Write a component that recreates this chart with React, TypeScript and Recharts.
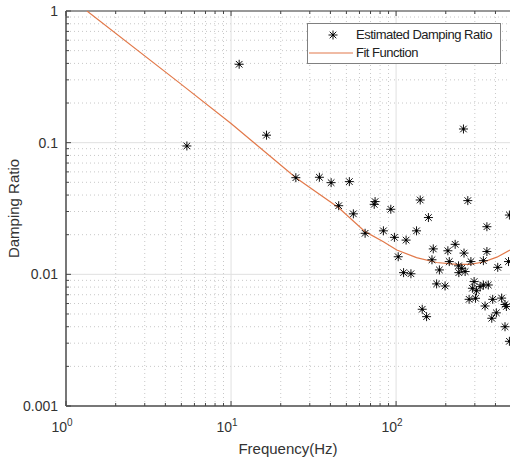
import React from "react";
import {
  Label,
  ReferenceLine,
  Scatter,
  ScatterChart,
  XAxis,
  YAxis,
} from "recharts";

// estimated damping ratio per mode
const pointFreq = [
  5.4, 11.2, 16.4, 24.7, 34.3, 40.4, 52.1, 44.9, 55.1, 74.6, 73.7, 92.9, 64.9, 83.8, 97.7, 103,
  115, 133, 111, 123, 140, 157, 168, 165, 183, 206, 228, 258, 210, 239, 250, 262, 240, 284, 338,
  355, 355, 272, 413, 480, 486, 176, 198, 297, 290, 307, 323, 338, 362, 303, 277, 346, 385, 380,
  405, 436, 457, 466, 457, 486, 144, 153, 256,
];
const pointDamping = [
  0.0944, 0.394, 0.114, 0.0542, 0.0546, 0.0497, 0.0506, 0.0332, 0.0288, 0.0357, 0.034, 0.0312,
  0.0205, 0.0214, 0.0191, 0.0136, 0.0182, 0.0214, 0.0103, 0.0101, 0.0367, 0.027, 0.0156, 0.0129,
  0.0108, 0.0151, 0.0169, 0.0145, 0.0125, 0.0116, 0.0111, 0.0105, 0.0103, 0.0125, 0.0127, 0.0149,
  0.023, 0.0363, 0.0113, 0.0125, 0.0282, 0.00846, 0.00816, 0.00881, 0.00784, 0.0075, 0.00807,
  0.0083, 0.0083, 0.00658, 0.00646, 0.00575, 0.00646, 0.00464, 0.0051, 0.0066, 0.0059, 0.0057,
  0.004, 0.0031, 0.00543, 0.00477, 0.127,
];

// fit curve
const fitFreq = [1.34, 4.91, 10, 24.7, 44.9, 64.9, 83.8, 101, 133, 176, 233, 281, 338, 408, 490];
const fitDamping = [
  1.0, 0.282, 0.14, 0.0542, 0.032, 0.0211, 0.0177, 0.0153, 0.0134, 0.0123, 0.0119, 0.0119, 0.0124,
  0.0135, 0.0153,
];

const xMajor = [1, 10, 100];
const xMinor = [2, 3, 4, 5, 6, 7, 8, 9, 20, 30, 40, 50, 60, 70, 80, 90, 200, 300, 400];
const yMajor = [0.001, 0.01, 0.1, 1];
const yMinor = [
  0.002, 0.003, 0.004, 0.005, 0.006, 0.007, 0.008, 0.009, 0.02, 0.03, 0.04, 0.05, 0.06, 0.07,
  0.08, 0.09, 0.2, 0.3, 0.4, 0.5, 0.6, 0.7, 0.8, 0.9,
];
const yLabels = ["0.001", "0.01", "0.1", "1"];

const points = pointFreq.map((f, i) => ({ f, d: pointDamping[i] }));
const fit = fitFreq.map((f, i) => ({ f, d: fitDamping[i] }));

const FIT_COLOR = "#e2794a";
const FONT = "'Liberation Sans', Arial, sans-serif";
const PLOT_H = 395;

function Asterisk({ cx, cy }: { cx?: number; cy?: number }) {
  if (cx == null || cy == null) return <g />;
  const r = 4.5;
  const q = 3.3;
  return (
    <g stroke="#111" strokeWidth={1}>
      <line x1={cx - r} y1={cy} x2={cx + r} y2={cy} />
      <line x1={cx} y1={cy - r} x2={cx} y2={cy + r} />
      <line x1={cx - q} y1={cy - q} x2={cx + q} y2={cy + q} />
      <line x1={cx - q} y1={cy + q} x2={cx + q} y2={cy - q} />
      <circle cx={cx} cy={cy} r={1.2} fill="#000" stroke="none" />
    </g>
  );
}

function XTick(props: any) {
  const { x, y, payload } = props;
  const v = payload.value;
  const major = xMajor.includes(v);
  const len = major ? 5 : 3;
  return (
    <g>
      <line x1={x} y1={y} x2={x} y2={y - len} stroke="#444" />
      <line x1={x} y1={y - PLOT_H} x2={x} y2={y - PLOT_H + len} stroke="#444" />
      {major ? (
        <text x={x - 4} y={y + 26} textAnchor="middle" fontSize={14} fill="#333" fontFamily={FONT}>
          10
          <tspan dy={-6} fontSize={10}>
            {Math.round(Math.log10(v))}
          </tspan>
        </text>
      ) : null}
    </g>
  );
}

function YTick(props: any) {
  const { x, y, payload } = props;
  const v = payload.value;
  const idx = yMajor.indexOf(v);
  const len = idx >= 0 ? 5 : 3;
  return (
    <g>
      <line x1={x} y1={y} x2={x + len} y2={y} stroke="#444" />
      {idx >= 0 ? (
        <text x={x - 8} y={y + 5} textAnchor="end" fontSize={14} fill="#333" fontFamily={FONT}>
          {yLabels[idx]}
        </text>
      ) : null}
    </g>
  );
}

function LegendBox() {
  return (
    <div
      style={{
        position: "absolute",
        left: 307,
        top: 23,
        width: 192,
        height: 39,
        border: "1px solid #808080",
        background: "white",
        fontFamily: FONT,
        fontSize: 13,
        letterSpacing: -0.5,
        color: "#222",
      }}
    >
      <svg width={50} height={39} style={{ position: "absolute", left: 0, top: 0 }}>
        <Asterisk cx={25} cy={11} />
        <line x1={1} y1={29} x2={45} y2={29} stroke={FIT_COLOR} strokeWidth={1.2} />
      </svg>
      <div style={{ position: "absolute", left: 48, top: 3, whiteSpace: "nowrap" }}>
        Estimated Damping Ratio
      </div>
      <div style={{ position: "absolute", left: 48, top: 21, whiteSpace: "nowrap" }}>
        Fit Function
      </div>
    </div>
  );
}

export default function App() {
  return (
    <div style={{ position: "absolute", left: 0, top: 0, width: 510, height: 462, background: "white" }}>
      <ScatterChart width={510} height={462} margin={{ top: 11, right: 0, bottom: 0, left: 0 }}>
        {xMinor.map((v) => (
          <ReferenceLine key={`xm${v}`} x={v} stroke="#c8c8c8" strokeDasharray="1 3" />
        ))}
        {yMinor.map((v) => (
          <ReferenceLine key={`ym${v}`} y={v} stroke="#c8c8c8" strokeDasharray="1 3" />
        ))}
        {xMajor.slice(1).map((v) => (
          <ReferenceLine key={`xM${v}`} x={v} stroke="#e0e0e0" />
        ))}
        {yMajor.slice(1, 3).map((v) => (
          <ReferenceLine key={`yM${v}`} y={v} stroke="#e0e0e0" />
        ))}
        <ReferenceLine y={1} stroke="#333" strokeWidth={1} />
        <XAxis
          dataKey="f"
          type="number"
          scale="log"
          domain={[1, 490]}
          allowDataOverflow
          ticks={[...xMajor, ...xMinor].sort((a, b) => a - b)}
          interval={0}
          tick={<XTick />}
          tickLine={false}
          tickSize={0}
          tickMargin={0}
          height={56}
          axisLine={{ stroke: "#777", strokeWidth: 2 }}
        >
          <Label
            content={({ viewBox }: any) => (
              <text
                x={viewBox.x + viewBox.width / 2}
                y={viewBox.y + 48}
                textAnchor="middle"
                fontSize={15}
                fill="#333"
                fontFamily={FONT}
              >
                Frequency(Hz)
              </text>
            )}
          />
        </XAxis>
        <YAxis
          dataKey="d"
          type="number"
          scale="log"
          domain={[0.001, 1]}
          allowDataOverflow
          ticks={[...yMajor, ...yMinor].sort((a, b) => a - b)}
          interval={0}
          tick={<YTick />}
          tickLine={false}
          tickSize={0}
          tickMargin={0}
          width={66}
          axisLine={{ stroke: "#777", strokeWidth: 2 }}
        >
          <Label
            content={({ viewBox }: any) => {
              const cx = 19;
              const cy = viewBox.y + viewBox.height / 2;
              return (
                <text
                  x={cx}
                  y={cy}
                  transform={`rotate(-90 ${cx} ${cy})`}
                  textAnchor="middle"
                  fontSize={15}
                  fill="#333"
                  fontFamily={FONT}
                >
                  Damping Ratio
                </text>
              );
            }}
          />
        </YAxis>
        <Scatter
          name="Fit Function"
          data={fit}
          fill={FIT_COLOR}
          line={{ stroke: FIT_COLOR, strokeWidth: 1.2 }}
          lineType="joint"
          shape={() => <g />}
          isAnimationActive={false}
        />
        <Scatter
          name="Estimated Damping Ratio"
          data={points}
          fill="#111"
          shape={(p: any) => <Asterisk cx={p.cx} cy={p.cy} />}
          isAnimationActive={false}
        />
      </ScatterChart>
      <LegendBox />
    </div>
  );
}
